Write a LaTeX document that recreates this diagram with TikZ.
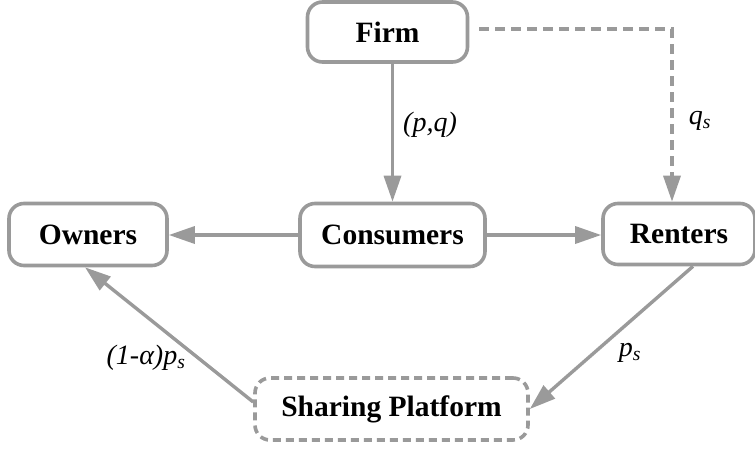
\documentclass[tikz,border=0pt]{standalone}
\usepackage{fontspec}
\setmainfont{Liberation Serif}
\usetikzlibrary{arrows.meta,calc}
\definecolor{lgray}{RGB}{154,154,154}
\tikzset{
  box/.style={draw=lgray, line width=3.6pt, rounded corners=15pt, fill=white, inner sep=0pt,
    font=\fontsize{29.5}{35}\selectfont\bfseries, text=black},
  conn/.style={draw=lgray, line width=3.4pt, -{Triangle[length=26pt,width=17pt]}},
  lbl/.style={font=\fontsize{28}{33}\selectfont\itshape, text=black, inner sep=0pt},
}
\begin{document}
\begin{tikzpicture}[x=1pt,y=-1pt]
\useasboundingbox (0,0) rectangle (755,448);
\node[box, minimum width=160pt, minimum height=60pt] (fi) at (387.5,32) {Firm};
\node[box, minimum width=158pt, minimum height=62pt] (ow) at (88,234.5) {Owners};
\node[box, minimum width=185pt, minimum height=63pt] (co) at (392.5,235) {Consumers};
\node[box, minimum width=152pt, minimum height=61pt] (re) at (679,234) {Renters};
\node[box, dash pattern=on 8pt off 5pt, minimum width=273pt, minimum height=62pt] (sp) at (391.5,409) {Sharing Platform};

\draw[conn] (co.north |- fi.south) -- (co.north);
\draw[conn, dash pattern=on 10pt off 6pt] ($(fi.east)+(10,-3)$) -| ($(re.north)+(-7,0)$);
\draw[conn] (co.west) -- (co.west -| ow.east);
\draw[conn] (co.east) -- (co.east -| re.west);
\draw[conn] ($(sp.west)+(0,-7)$) -- ($(ow.south)+(-3,0)$);
\draw[conn] ($(re.south)+(14,0)$) -- (sp.east);

\node[lbl] (l1) at (430,125) {(p,q)};
\node[lbl] (l2) at (700,121) {q\textsubscript{s}};
\node[lbl] (l3) at (146,358) {(1-α)p\textsubscript{s}};
\node[lbl] (l4) at (630,353) {p\textsubscript{s}};
\end{tikzpicture}
\end{document}
